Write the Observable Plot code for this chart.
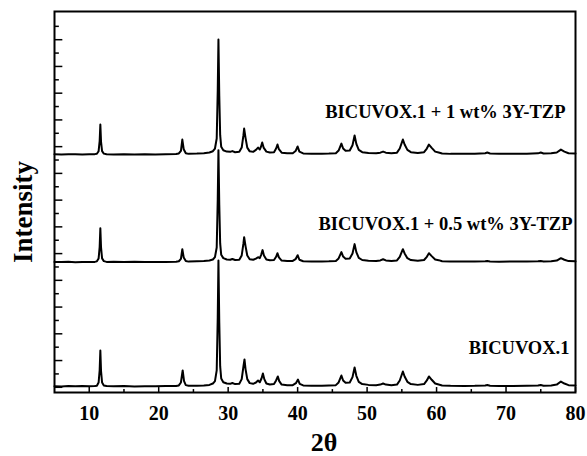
<!DOCTYPE html>
<html>
<head>
<meta charset="utf-8">
<script src="https://cdn.jsdelivr.net/npm/d3@7"></script>
<script src="https://cdn.jsdelivr.net/npm/@observablehq/plot@0.6"></script>
<style>
  html, body { margin: 0; padding: 0; background: #fff; }
</style>
</head>
<body>
<div id="chart"></div>
<script>
// [2θ (deg), intensity (a.u.)]
const bicuvox = [[5,2],[6,0],[7,3],[8,1],[9,3],[10,1],[10.8,3],[11.1,6],[11.35,30],[11.5,120],[11.6,269],[11.7,115],[11.85,30],[12.1,8],[12.5,3],[13.5,1],[15,3],[16.5,0],[18,2],[19.5,1],[21,3],[22.5,4],[22.9,8],[23.2,30],[23.45,120],[23.65,40],[23.9,10],[24.3,5],[25.5,6],[26.5,8],[27.3,12],[27.8,22],[28.1,40],[28.35,120],[28.5,520],[28.6,943],[28.72,480],[28.85,150],[29.0,60],[29.3,32],[29.8,22],[30.3,20],[30.6,26],[31.0,18],[31.6,20],[31.95,55],[32.2,150],[32.35,202],[32.5,130],[32.75,55],[33.1,25],[33.6,20],[34.0,30],[34.3,45],[34.55,32],[34.8,60],[35.0,97],[35.2,55],[35.5,22],[36.0,15],[36.6,18],[36.9,45],[37.15,75],[37.35,40],[37.7,14],[38.5,10],[39.3,10],[39.75,25],[40.05,52],[40.3,20],[40.8,8],[42,6],[43.5,5],[44.5,7],[45.5,10],[45.9,30],[46.3,82],[46.55,45],[46.9,28],[47.5,30],[47.9,70],[48.2,142],[48.45,80],[48.8,35],[49.3,18],[50.2,12],[51.3,10],[51.9,14],[52.3,22],[52.7,14],[53.5,10],[54.3,14],[54.7,45],[55.15,112],[55.4,75],[55.8,35],[56.3,18],[57.3,12],[58.2,18],[58.6,45],[58.9,75],[59.3,50],[59.8,22],[60.3,15],[60.8,8],[62,5],[64,4],[65.5,5],[67,8],[67.3,11],[67.7,6],[69,4],[71,4],[73,5],[74.6,7],[75,11],[75.4,6],[76.5,8],[77.3,14],[77.9,37],[78.4,22],[79,10],[80,8]];

const bicuvox05 = [[5,2],[6,1],[7,3],[8,0],[9,2],[10,2],[10.8,2],[11.1,6],[11.35,28],[11.5,112],[11.6,254],[11.7,110],[11.85,28],[12.1,8],[12.5,2],[13.5,3],[15,1],[16.5,3],[18,1],[19.5,2],[21,2],[22.5,3],[22.9,7],[23.2,25],[23.4,97],[23.6,35],[23.9,8],[24.3,4],[25.5,6],[26.5,8],[27.3,12],[27.8,20],[28.1,38],[28.35,110],[28.5,470],[28.6,838],[28.72,430],[28.85,140],[29.0,55],[29.3,30],[29.8,20],[30.3,18],[30.6,24],[31.0,16],[31.6,18],[31.95,50],[32.2,140],[32.3,187],[32.5,120],[32.75,50],[33.1,22],[33.6,18],[34.0,26],[34.3,37],[34.55,30],[34.75,55],[34.95,90],[35.15,50],[35.5,20],[36.0,14],[36.6,16],[36.9,40],[37.1,67],[37.3,36],[37.7,12],[38.5,9],[39.3,9],[39.7,22],[40.0,52],[40.25,18],[40.8,7],[42,5],[43.5,5],[44.5,6],[45.5,9],[45.9,28],[46.3,75],[46.55,42],[46.9,26],[47.5,28],[47.9,65],[48.2,135],[48.45,75],[48.8,32],[49.3,16],[50.2,11],[51.3,9],[51.9,13],[52.3,22],[52.7,13],[53.5,9],[54.3,13],[54.7,40],[55.15,97],[55.4,65],[55.8,30],[56.3,16],[57.3,11],[58.2,16],[58.6,40],[58.9,67],[59.3,45],[59.8,20],[60.3,15],[60.8,7],[62,4],[64,5],[65.5,4],[67,6],[67.3,8],[67.7,5],[69,3],[71,5],[73,4],[74.6,6],[75,8],[75.4,5],[76.5,7],[77.3,12],[77.9,30],[78.4,18],[79,8],[80,6]];

const bicuvox1 = [[5,3],[6,1],[7,2],[8,2],[9,0],[10,2],[10.8,3],[11.1,6],[11.35,25],[11.5,100],[11.6,224],[11.7,95],[11.85,25],[12.1,7],[12.5,2],[13.5,1],[15,2],[16.5,1],[18,3],[19.5,1],[21,2],[22.5,4],[22.9,8],[23.2,28],[23.4,112],[23.6,40],[23.9,10],[24.3,5],[25.5,7],[26.5,10],[27.3,15],[27.8,25],[28.1,45],[28.35,120],[28.5,480],[28.6,860],[28.72,440],[28.85,145],[29.0,58],[29.3,32],[29.8,22],[30.3,20],[30.6,26],[31.0,17],[31.6,20],[31.95,52],[32.2,145],[32.3,194],[32.5,125],[32.75,52],[33.1,24],[33.6,20],[34.0,35],[34.3,52],[34.55,38],[34.7,55],[34.9,90],[35.1,52],[35.5,22],[36.0,15],[36.6,18],[36.9,45],[37.1,75],[37.3,40],[37.7,14],[38.5,10],[39.3,10],[39.7,26],[40.0,60],[40.25,22],[40.8,8],[42,6],[43.5,6],[44.5,7],[45.5,10],[45.9,30],[46.3,82],[46.55,45],[46.9,28],[47.5,30],[47.9,70],[48.2,142],[48.45,80],[48.8,35],[49.3,18],[50.2,12],[51.3,10],[51.9,14],[52.3,22],[52.7,14],[53.5,10],[54.3,14],[54.7,45],[55.15,112],[55.4,75],[55.8,35],[56.3,18],[57.3,12],[58.2,18],[58.6,45],[58.9,75],[59.3,50],[59.8,22],[60.3,15],[60.8,8],[62,5],[64,5],[65.5,6],[67,10],[67.3,15],[67.7,8],[69,5],[71,5],[73,6],[74.6,9],[75,15],[75.4,8],[76.5,9],[77.3,15],[77.9,37],[78.4,22],[79,10],[80,8]];

const seriesNames = ["BICUVOX.1", "BICUVOX.1 + 0.5 wt% 3Y-TZP", "BICUVOX.1 + 1 wt% 3Y-TZP"];
const seriesData = [bicuvox, bicuvox05, bicuvox1];
const offsets = [6, 936, 1741];          // vertical stacking offsets (a.u.)
const xTickLabels = [10, 20, 30, 40, 50, 60, 70, 80];
const xMinorTicks = [15, 25, 35, 45, 55, 65, 75];
const yTicks = d3.range(0, 2701, 100);

const rows = seriesData.flatMap((s, i) =>
  s.map(([theta, I]) => ({series: seriesNames[i], theta, I, y: I + offsets[i]})));

const serif = "'Liberation Serif', 'Times New Roman', serif";
const labelDx = [-6, -3, -10];
const labelRise = [285, 288, 315];

const marks = [
  Plot.line(rows, {x: "theta", y: "y", z: "series", stroke: "black", strokeWidth: 2, strokeLinejoin: "round"}),
  // inward y ticks (left axis)
  Plot.ruleY(yTicks, {y: d => d, x1: 5, x2: d => (d % 200 === 0 ? 6.2 : 5.7), stroke: "black", strokeWidth: 1.5}),
  // inward x ticks (bottom axis)
  Plot.ruleX(xTickLabels, {x: d => d, y1: -39, y2: -2, stroke: "black", strokeWidth: 1.5}),
  Plot.ruleX(xMinorTicks, {x: d => d, y1: -39, y2: -17, stroke: "black", strokeWidth: 1.5}),
  Plot.frame({stroke: "black", strokeWidth: 2}),
  Plot.text(["Intensity"], {frameAnchor: "left", text: d => d, rotate: -90, textAnchor: "middle", lineAnchor: "middle", dx: -31, dy: 10, fontSize: 27, fontWeight: "bold", fontFamily: serif, fill: "black"}),
  Plot.text(["2θ"], {frameAnchor: "bottom", text: d => d, textAnchor: "middle", lineAnchor: "middle", dx: 9, dy: 50, fontSize: 26, fontWeight: "bold", fontFamily: serif, fill: "black"})
];
seriesNames.forEach((name, i) => {
  marks.push(Plot.text([name], {
    x: 80, y: offsets[i] + labelRise[i], text: d => d, textAnchor: "end", dx: labelDx[i],
    fontSize: 18.5, fontWeight: "bold", fontFamily: serif, fill: "black"
  }));
});

const chart = Plot.plot({
  width: 587,
  height: 456,
  marginLeft: 54,
  marginRight: 12,
  marginTop: 11,
  marginBottom: 64,
  style: {fontFamily: serif, fontWeight: "bold", fontSize: "20px", background: "white", color: "black"},
  x: {domain: [5, 80], ticks: xTickLabels, tickSize: 0, tickPadding: 13, label: null, tickFormat: d => String(d)},
  y: {domain: [-39, 2811], axis: null},
  marks
});
document.getElementById("chart").appendChild(chart);
</script>
</body>
</html>
